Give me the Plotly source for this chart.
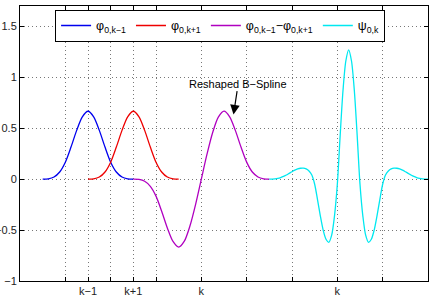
import numpy as np
import plotly.graph_objects as go

# ---- data ----
# phi_{0,k-1}: B-spline bump (support -1..3)
x_phi_km1 = np.arange(-1.0, 3.0001, 0.25)
y_phi_km1 = [0, 0.0026, 0.0208, 0.0703, 0.1667, 0.315, 0.479, 0.612, 0.6667,
             0.612, 0.479, 0.315, 0.1667, 0.0703, 0.0208, 0.0026, 0]
# phi_{0,k+1}: B-spline bump (support 1..5)
x_phi_kp1 = np.arange(1.0, 5.0001, 0.25)
y_phi_kp1 = [0, 0.0026, 0.0208, 0.0703, 0.1667, 0.315, 0.479, 0.612, 0.6667,
             0.612, 0.479, 0.315, 0.1667, 0.0703, 0.0208, 0.0026, 0]
# reshaped B-spline (support 3..9)
x_diff = np.arange(3.0, 9.0001, 0.25)
y_diff = [0, -0.0026, -0.0208, -0.0703, -0.1667, -0.315, -0.479, -0.612, -0.667,
          -0.609, -0.458, -0.245, 0, 0.245, 0.458, 0.609, 0.667,
          0.612, 0.479, 0.315, 0.167, 0.070, 0.021, 0.003, 0]
# psi_{0,k} (support 9..16)
x_psi = np.arange(9.0, 16.0001, 0.125)
y_psi = [0, 0.001, 0.003, 0.008, 0.016, 0.027, 0.041, 0.057, 0.073, 0.088, 0.100,
         0.107, 0.108, 0.10, 0.08, 0.04, -0.05, -0.20, -0.36, -0.50, -0.59, -0.62,
         -0.55, -0.36, -0.05, 0.43, 0.87, 1.16, 1.27,
         1.16, 0.87, 0.43, -0.05, -0.36, -0.55, -0.62, -0.59, -0.50, -0.36, -0.20,
         -0.05, 0.04, 0.08, 0.10, 0.108, 0.107, 0.100, 0.088, 0.073, 0.057, 0.041,
         0.027, 0.016, 0.008, 0.003, 0.001, 0]

series_names = ["φ<sub>0,k−1</sub>", "φ<sub>0,k+1</sub>",
                "φ<sub>0,k−1</sub>−φ<sub>0,k+1</sub>", "ψ<sub>0,k</sub>"]
series_colors = ["#0000ee", "#ee0000", "#b000c0", "#00e8f0"]

x_tickvals = [0, 1, 2, 3, 4, 6, 8, 10, 12, 14]
x_ticktext = ["", "k−1", "", "k+1", "", "k", "", "", "k", ""]
y_tickvals = [-1, -0.5, 0, 0.5, 1, 1.5]
y_ticktext = ["−1", "−0.5", "0", "0.5", "1", "1.5"]

annot_text = "Reshaped B−Spline"
annot_x, annot_y = 7.42, 0.634

FONT = "Liberation Sans, Arial, sans-serif"

fig = go.Figure()
for xs, ys, name, col in zip([x_phi_km1, x_phi_kp1, x_diff, x_psi],
                             [y_phi_km1, y_phi_kp1, y_diff, y_psi],
                             series_names, series_colors):
    fig.add_trace(go.Scatter(x=xs, y=ys, mode="lines", name=name,
                             line=dict(color=col, width=1.3, shape="spline", smoothing=0.8)))

axis_common = dict(showline=True, linecolor="black", linewidth=1, mirror="ticks",
                   ticks="inside", ticklen=4, tickcolor="black", tickwidth=1,
                   showgrid=True, gridcolor="#777777", griddash="1px,3px", gridwidth=1,
                   zeroline=False, tickfont=dict(family=FONT, size=11, color="#222"))

fig.update_xaxes(range=[-2, 16], tickmode="array", tickvals=x_tickvals,
                 ticktext=x_ticktext, **axis_common)
fig.update_yaxes(range=[-1, 1.7], tickmode="array", tickvals=y_tickvals,
                 ticktext=y_ticktext, **axis_common)

fig.add_annotation(x=annot_x, y=annot_y, text=annot_text, showarrow=True,
                   ax=4.7, ay=-31, arrowhead=2, arrowsize=1.6, arrowwidth=1.2,
                   arrowcolor="black", font=dict(family=FONT, size=11, color="black"))

fig.update_layout(
    width=436, height=304,
    margin=dict(l=20, r=8, t=6, b=23, autoexpand=False),
    paper_bgcolor="white", plot_bgcolor="white",
    font=dict(family=FONT, size=11, color="black"),
    legend=dict(orientation="h", x=0.086, y=0.986, xanchor="left", yanchor="top",
                bgcolor="white", bordercolor="black", borderwidth=1,
                font=dict(family=FONT, size=12.5, color="black"),
                itemwidth=30, tracegroupgap=0),
    showlegend=True,
)

fig.write_html("out.html")
